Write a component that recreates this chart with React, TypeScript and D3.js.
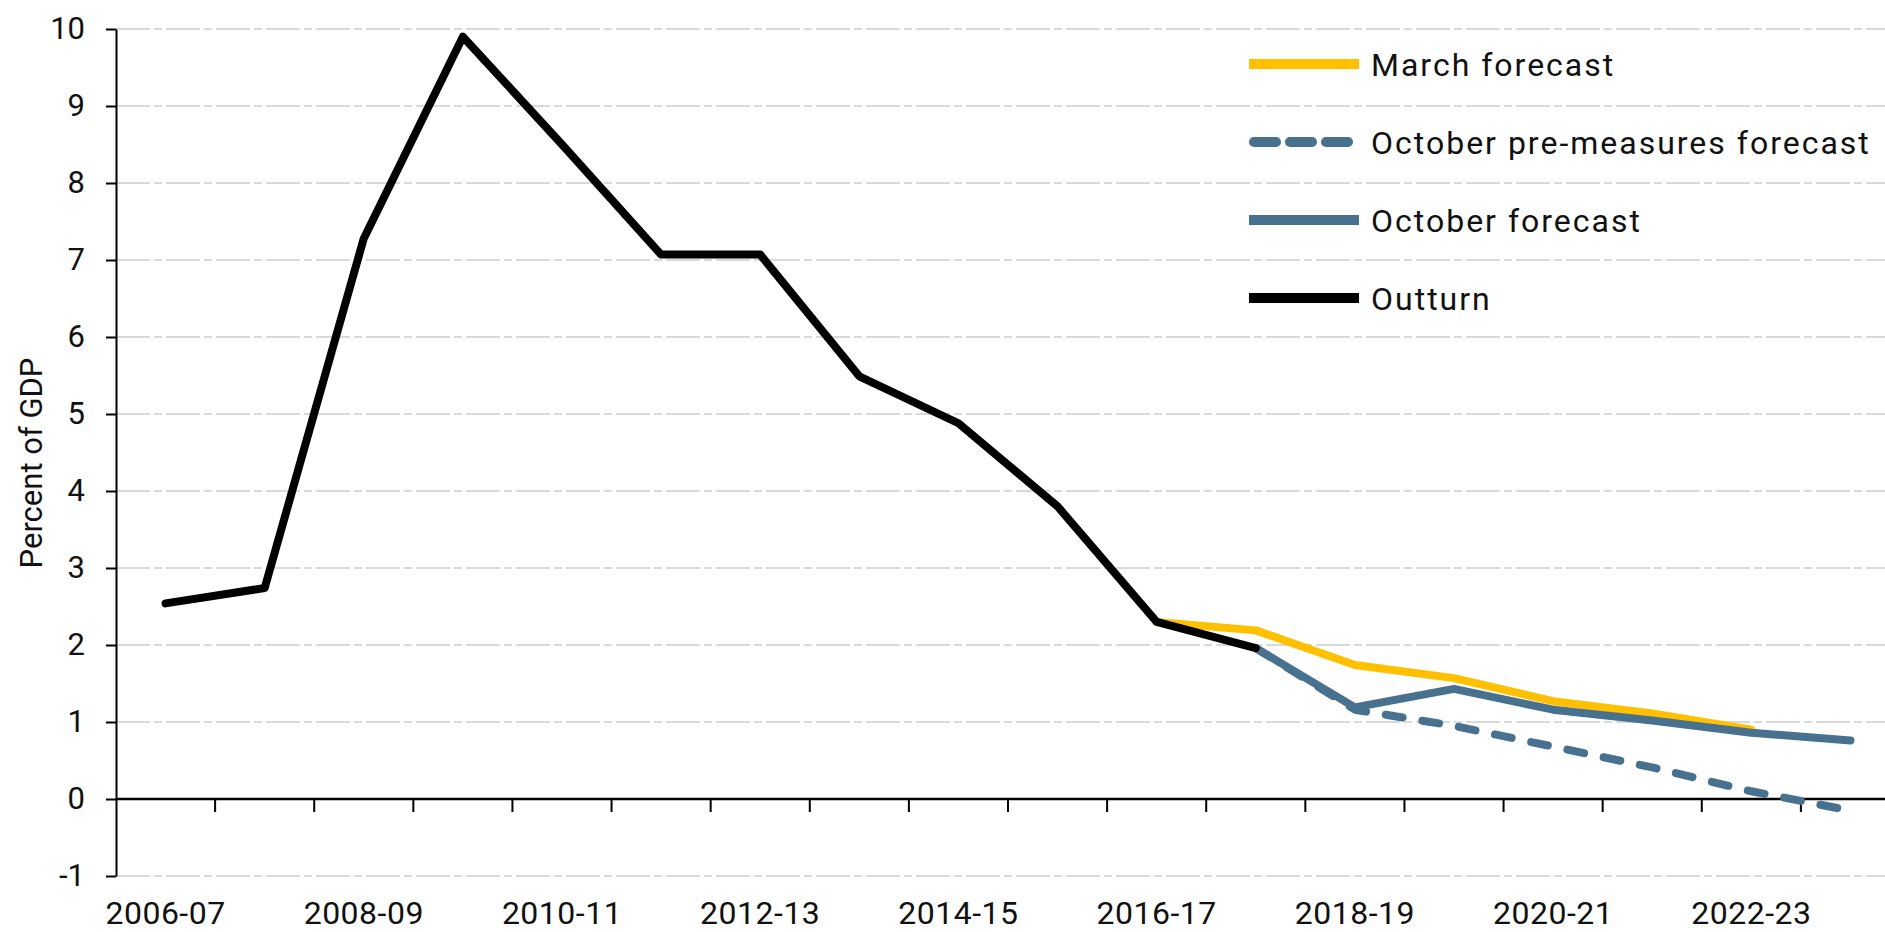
import { useEffect, useRef } from 'react';
import * as d3 from 'd3';

const years = [
  '2006-07', '2007-08', '2008-09', '2009-10', '2010-11', '2011-12',
  '2012-13', '2013-14', '2014-15', '2015-16', '2016-17', '2017-18',
  '2018-19', '2019-20', '2020-21', '2021-22', '2022-23', '2023-24',
];

// percent of GDP, null where the series has no value
const outturn = [2.54, 2.74, 7.28, 9.9, 8.5, 7.07, 7.07, 5.49, 4.88, 3.8, 2.3, 1.96,
  null, null, null, null, null, null];
const marchForecast = [null, null, null, null, null, null, null, null, null, null,
  2.3, 2.19, 1.74, 1.57, 1.27, 1.11, 0.9, null];
const octoberPreMeasures = [null, null, null, null, null, null, null, null, null, null,
  null, 1.96, 1.16, 0.95, 0.68, 0.41, 0.1, -0.15];
const octoberForecast = [null, null, null, null, null, null, null, null, null, null,
  null, 1.96, 1.19, 1.43, 1.16, 1.02, 0.86, 0.76];

const yTicks = [-1, 0, 1, 2, 3, 4, 5, 6, 7, 8, 9, 10];

const legendItems = [
  { label: 'March forecast', color: '#ffc000', dash: null },
  { label: 'October pre-measures forecast', color: '#48708f', dash: '22 14' },
  { label: 'October forecast', color: '#48708f', dash: null },
  { label: 'Outturn', color: '#000000', dash: null },
];

const FONT = 'Roboto, "Liberation Sans", sans-serif';

function Chart() {
  const ref = useRef(null);

  useEffect(() => {
    const w = 1885;
    const h = 932;
    const left = 116;

    const svg = d3.select(ref.current).attr('width', w).attr('height', h);
    svg.selectAll('*').remove();

    const x = d3.scaleBand().domain(years).range([left, 1900]).padding(0);
    const y = d3.scaleLinear().domain([-1, 10]).range([876, 29]);
    const cx = (d) => x(d) + x.bandwidth() / 2;

    // gridlines
    svg
      .append('g')
      .selectAll('line')
      .data(yTicks.filter((t) => t !== 0))
      .join('line')
      .attr('x1', left)
      .attr('x2', w)
      .attr('y1', (d) => y(d))
      .attr('y2', (d) => y(d))
      .attr('stroke', '#d9d9d9')
      .attr('stroke-width', 2)
      .attr('stroke-dasharray', '34 4 8 4');

    // y axis
    const yAxis = svg
      .append('g')
      .attr('transform', `translate(${left},0)`)
      .call(
        d3
          .axisLeft(y)
          .tickValues(yTicks)
          .tickFormat((d) => String(d))
          .tickSize(10)
          .tickSizeOuter(0)
          .tickPadding(21)
      );
    yAxis.select('.domain').attr('stroke', '#000').attr('stroke-width', 2);
    yAxis.selectAll('.tick line').attr('stroke', '#000').attr('stroke-width', 2);
    yAxis
      .selectAll('.tick text')
      .attr('font-family', FONT)
      .attr('font-size', 31)
      .attr('fill', '#111');

    svg
      .append('text')
      .attr('transform', `translate(42,463) rotate(-90)`)
      .attr('text-anchor', 'middle')
      .attr('font-family', FONT)
      .attr('font-size', 31)
      .attr('fill', '#111')
      .text('Percent of GDP');

    // x axis
    svg
      .append('line')
      .attr('x1', left)
      .attr('x2', w)
      .attr('y1', y(0))
      .attr('y2', y(0))
      .attr('stroke', '#000')
      .attr('stroke-width', 2.5);

    svg
      .append('g')
      .selectAll('line')
      .data(years.slice(1))
      .join('line')
      .attr('x1', (d) => x(d))
      .attr('x2', (d) => x(d))
      .attr('y1', y(0))
      .attr('y2', y(0) + 13)
      .attr('stroke', '#000')
      .attr('stroke-width', 2);

    svg
      .append('g')
      .selectAll('text')
      .data(years.filter((d, i) => i % 2 === 0))
      .join('text')
      .attr('x', (d) => cx(d))
      .attr('y', 924)
      .attr('text-anchor', 'middle')
      .attr('font-family', FONT)
      .attr('font-size', 32)
      .attr('letter-spacing', 0.5)
      .attr('fill', '#111')
      .text((d) => d);

    // series
    const line = d3
      .line()
      .defined((d) => d.v !== null)
      .x((d) => cx(d.year))
      .y((d) => y(d.v));

    const series = [
      { values: octoberPreMeasures, color: '#48708f', width: 8, dash: '17 20' },
      { values: marchForecast, color: '#ffc000', width: 8, dash: null },
      { values: octoberForecast, color: '#48708f', width: 8, dash: null },
      { values: outturn, color: '#000000', width: 8, dash: null },
    ];

    series.forEach((s) => {
      svg
        .append('path')
        .datum(years.map((yr, i) => ({ year: yr, v: s.values[i] })))
        .attr('d', line)
        .attr('fill', 'none')
        .attr('stroke', s.color)
        .attr('stroke-width', s.width)
        .attr('stroke-linejoin', 'round')
        .attr('stroke-linecap', 'round')
        .attr('stroke-dasharray', s.dash);
    });

    // legend
    const legend = svg
      .append('g')
      .selectAll('g')
      .data(legendItems)
      .join('g')
      .attr('transform', (d, i) => `translate(0,${64 + i * 78})`);

    legend
      .append('line')
      .attr('x1', (d) => (d.dash ? 1254 : 1249))
      .attr('x2', 1359)
      .attr('stroke', (d) => d.color)
      .attr('stroke-width', 10)
      .attr('stroke-linecap', (d) => (d.dash ? 'round' : 'butt'))
      .attr('stroke-dasharray', (d) => d.dash);

    legend
      .append('text')
      .attr('x', 1371)
      .attr('y', 12)
      .attr('font-family', FONT)
      .attr('font-size', 32)
      .attr('letter-spacing', 2)
      .attr('fill', '#111')
      .text((d) => d.label);

    return () => svg.selectAll('*').remove();
  }, []);

  return (
    <svg
      ref={ref}
      style={{ position: 'absolute', left: 0, top: 0, display: 'block' }}
      role="img"
      aria-label="Percent of GDP, outturn and forecasts"
    />
  );
}

export default function App() {
  return <Chart />;
}
